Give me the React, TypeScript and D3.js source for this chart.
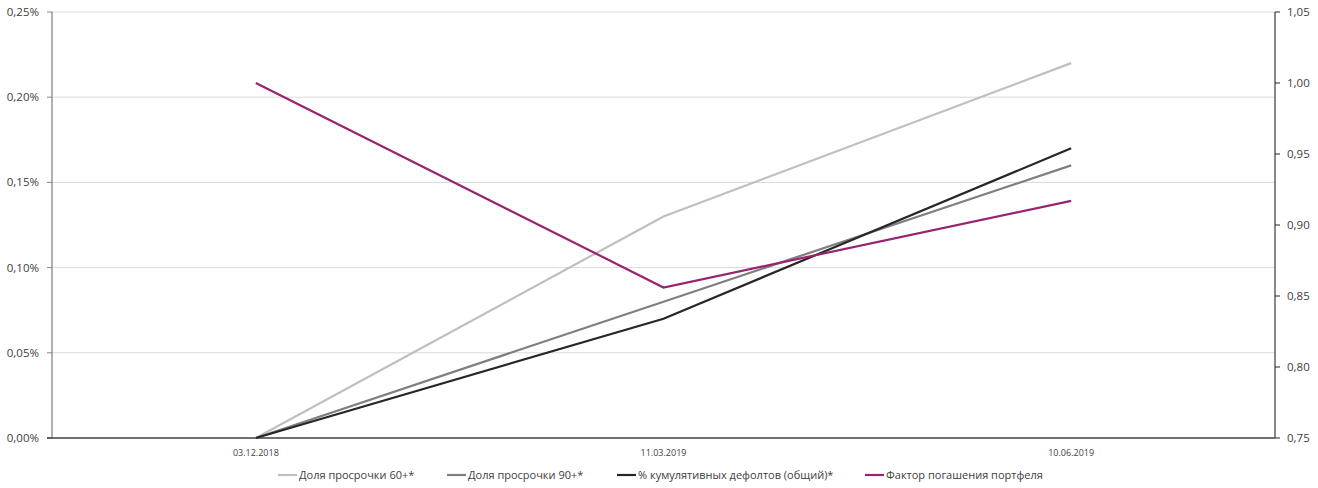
import React from "react";
import * as d3 from "d3";

const categories = ["03.12.2018", "11.03.2019", "10.06.2019"];
const share60 = [0, 0.13, 0.22];
const share90 = [0, 0.08, 0.16];
const cumDefaults = [0, 0.07, 0.17];
const repayFactor = [1.0, 0.856, 0.917];
const leftTicks = [0, 0.05, 0.1, 0.15, 0.2, 0.25];
const rightTicks = [0.75, 0.8, 0.85, 0.9, 0.95, 1.0, 1.05];

const W = 1318, H = 488;
const m = { left: 52, right: 1275, top: 12, bottom: 438 };
const FONT = "'Open Sans', 'Noto Sans', sans-serif";

export default function App() {
  const x = d3.scalePoint<string>().domain(categories).range([m.left, m.right]).padding(0.5);
  const yL = d3.scaleLinear().domain([0, 0.25]).range([m.bottom, m.top]);
  const yR = d3.scaleLinear().domain([0.75, 1.05]).range([m.bottom, m.top]);
  const lineL = d3.line<number>().x((_, i) => x(categories[i])!).y((d) => yL(d));
  const lineR = d3.line<number>().x((_, i) => x(categories[i])!).y((d) => yR(d));
  const fmtL = (v: number) => v.toFixed(2).replace(".", ",") + "%";
  const fmtR = (v: number) => v.toFixed(2).replace(".", ",");

  const series = [
    { name: "Доля просрочки 60+*", color: "#bfbfbf", d: lineL(share60)!, lx: 278 },
    { name: "Доля просрочки 90+*", color: "#7f7f7f", d: lineL(share90)!, lx: 447 },
    { name: "% кумулятивных дефолтов (общий)*", color: "#262626", d: lineL(cumDefaults)!, lx: 617 },
    { name: "Фактор погашения портфеля", color: "#98236f", d: lineR(repayFactor)!, lx: 865 },
  ];

  return (
    <svg width={W} height={H} style={{ position: "absolute", left: 0, top: 0, background: "#fff" }} fontFamily={FONT}>
      {leftTicks.filter((t) => t > 0).map((t) => (
        <line key={t} x1={m.left} x2={m.right} y1={yL(t)} y2={yL(t)} stroke="#d9d9d9" strokeWidth={1} />
      ))}
      {/* left axis */}
      <line x1={m.left} x2={m.left} y1={m.top} y2={m.bottom} stroke="#868686" strokeWidth={1.3} />
      {leftTicks.map((t) => (
        <g key={t}>
          <line x1={m.left - 5} x2={m.left} y1={yL(t)} y2={yL(t)} stroke="#868686" strokeWidth={1} />
          <text x={m.left - 13} y={yL(t)} dy="0.35em" textAnchor="end" fontSize={11.5} fill="#404040">{fmtL(t)}</text>
        </g>
      ))}
      {/* right axis */}
      <line x1={m.right} x2={m.right} y1={m.top} y2={m.bottom} stroke="#262626" strokeWidth={1.1} />
      {rightTicks.map((t) => (
        <g key={t}>
          <line x1={m.right} x2={m.right + 5} y1={yR(t)} y2={yR(t)} stroke="#262626" strokeWidth={1} />
          <text x={m.right + 12} y={yR(t)} dy="0.35em" textAnchor="start" fontSize={11.5} fill="#404040">{fmtR(t)}</text>
        </g>
      ))}
      {/* bottom axis */}
      <line x1={m.left - 5} x2={m.right} y1={m.bottom} y2={m.bottom} stroke="#404040" strokeWidth={1.3} />
      {categories.map((c) => (
        <text key={c} x={x(c)!} y={456} textAnchor="middle" fontSize={9} fill="#404040">{c}</text>
      ))}
      {series.map((s) => (
        <path key={s.name} d={s.d} fill="none" stroke={s.color} strokeWidth={2.2} />
      ))}
      {series.map((s) => (
        <g key={"lg" + s.name}>
          <line x1={s.lx} x2={s.lx + 19} y1={475} y2={475} stroke={s.color} strokeWidth={2.2} />
          <text x={s.lx + 21} y={475} dy="0.35em" fontSize={11} fill="#404040">{s.name}</text>
        </g>
      ))}
    </svg>
  );
}
